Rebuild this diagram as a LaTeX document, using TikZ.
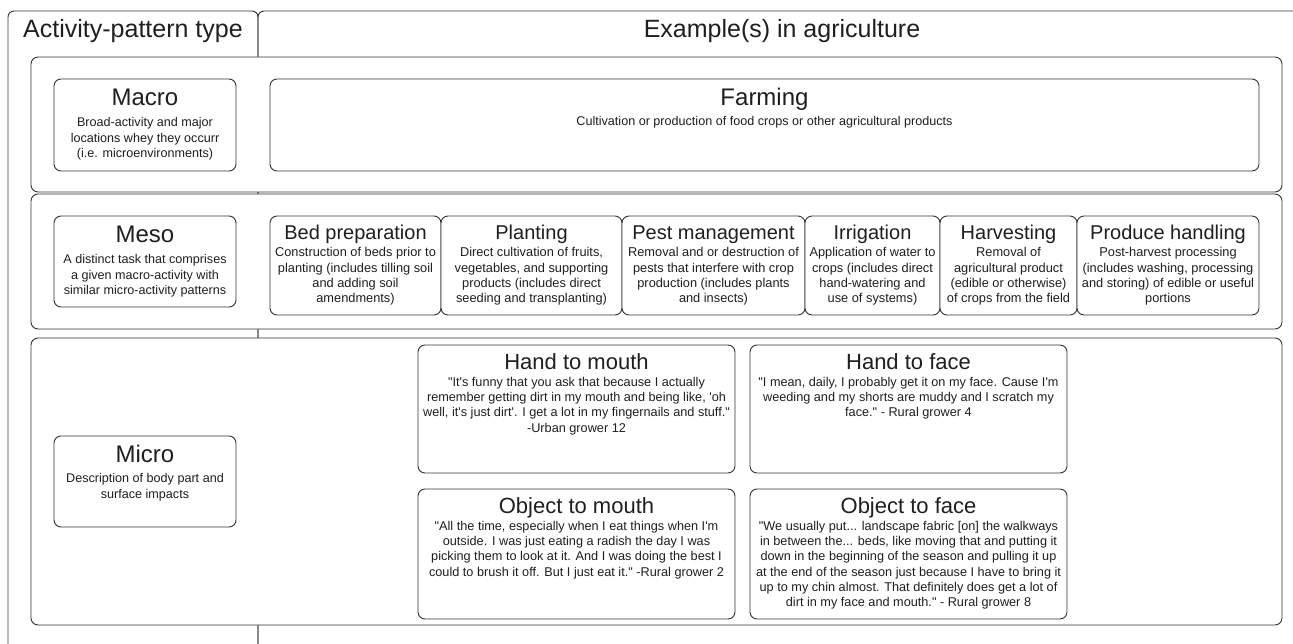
\documentclass[tikz,border=0pt]{standalone}
\usepackage{fontspec}
\setmainfont{Liberation Sans}[Ligatures=TeXOff]
\usepackage{tikz}
\usetikzlibrary{positioning}

\definecolor{linegray}{HTML}{333333}
\definecolor{inkgray}{HTML}{1F1F1F}

\begin{document}
\begin{tikzpicture}[x=1pt,y=-1pt,
    column/.style={draw=linegray, line width=0.9pt, rounded corners=6pt},
    band/.style={draw=linegray, fill=white, line width=0.9pt, rounded corners=7pt},
    card/.style={draw=linegray, fill=white, line width=0.9pt, rounded corners=7pt,
      anchor=north west, inner sep=0pt, outer sep=0pt},
    head/.style={text=inkgray, font=\fontsize{25}{30}\selectfont},
    bigtitle/.style={anchor=base, inner sep=0pt, text=inkgray, font=\fontsize{24}{28}\selectfont},
    tasktitle/.style={anchor=base, inner sep=0pt, text=inkgray, font=\fontsize{20}{24}\selectfont},
    quotetitle/.style={anchor=base, inner sep=0pt, text=inkgray, font=\fontsize{22}{26}\selectfont},
    desc/.style={anchor=north, inner sep=0pt, align=center, text=inkgray,
      font=\fontsize{12.6}{15.5}\selectfont},
    taskdesc/.style={desc, font=\fontsize{12.8}{15.3}\selectfont},
    quote/.style={anchor=north, inner sep=0pt, align=center, text=inkgray,
      font=\fontsize{12.7}{15.2}\selectfont}]
  \path[use as bounding box] (0,0) rectangle (1293,644);
  \clip (0,0) rectangle (1293,644);

  % Draw the two columns
  \draw[column] (8,700) rectangle (258,11);
  \draw[column] (258,700) rectangle (1310,11);
  \node[head] (typehead) at (133,31) {Activity-pattern type};
  \node[head] (examplehead) at (782,31) {Example(s) in agriculture};

  % Draw the three bands
  \draw[band] (31,57) rectangle (1282,192);
  \draw[band] (31,194) rectangle (1282,329);
  \draw[band] (31,338) rectangle (1282,625);

  % Macro band
  \node[card, minimum width=182pt, minimum height=92pt] (macro) at (54,79) {};
  \node[bigtitle] (macrotitle) at ([yshift=-26.5pt]macro.north) {Macro};
  \node[desc, below=12pt of macrotitle.base] (macrotext)
    {Broad-activity and major\\locations whey they occurr\\(i.e. microenvironments)};
  \node[card, minimum width=989pt, minimum height=92pt] (farming) at (270,79) {};
  \node[bigtitle] (farmingtitle) at ([yshift=-26.5pt]farming.north) {Farming};
  \node[desc, below=11pt of farmingtitle.base] (farmingtext)
    {Cultivation or production of food crops or other agricultural products};

  % Meso band
  \node[card, minimum width=182pt, minimum height=91pt] (meso) at (54,216) {};
  \node[bigtitle] (mesotitle) at ([yshift=-26.5pt]meso.north) {Meso};
  \node[desc, below=12pt of mesotitle.base] (mesotext)
    {A distinct task that comprises\\a given macro-activity with\\similar micro-activity patterns};
  \node[card, minimum width=171pt, minimum height=99pt] (bed) at (270,216) {};
  \node[card, minimum width=181pt, minimum height=99pt, right=0pt of bed] (planting) {};
  \node[card, minimum width=183pt, minimum height=99pt, right=0pt of planting] (pest) {};
  \node[card, minimum width=135pt, minimum height=99pt, right=0pt of pest] (irrigation) {};
  \node[card, minimum width=137pt, minimum height=99pt, right=0pt of irrigation] (harvest) {};
  \node[card, minimum width=182pt, minimum height=99pt, right=0pt of harvest] (produce) {};
  \node[tasktitle] (bedtitle) at ([yshift=-23.5pt]bed.north) {Bed preparation};
  \node[tasktitle] (plantingtitle) at ([yshift=-23.5pt]planting.north) {Planting};
  \node[tasktitle] (pesttitle) at ([yshift=-23.5pt]pest.north) {Pest management};
  \node[tasktitle] (irrigationtitle) at ([yshift=-23.5pt]irrigation.north) {Irrigation};
  \node[tasktitle] (harvesttitle) at ([yshift=-23.5pt]harvest.north) {Harvesting};
  \node[tasktitle] (producetitle) at ([yshift=-23.5pt]produce.north) {Produce handling};
  \node[taskdesc, below=8pt of bedtitle.base] (bedtext)
    {Construction of beds prior to\\planting (includes tilling soil\\and adding soil\\amendments)};
  \node[taskdesc, below=8pt of plantingtitle.base] (plantingtext)
    {Direct cultivation of fruits,\\vegetables, and supporting\\products (includes direct\\seeding and transplanting)};
  \node[taskdesc, below=8pt of pesttitle.base] (pesttext)
    {Removal and or destruction of\\pests that interfere with crop\\production (includes plants\\and insects)};
  \node[taskdesc, below=8pt of irrigationtitle.base] (irrigationtext)
    {Application of water to\\crops (includes direct\\hand-watering and\\use of systems)};
  \node[taskdesc, below=8pt of harvesttitle.base] (harvesttext)
    {Removal of\\agricultural product\\(edible or otherwise)\\of crops from the field};
  \node[taskdesc, below=8pt of producetitle.base] (producetext)
    {Post-harvest processing\\(includes washing, processing\\and storing) of edible or useful\\portions};

  % Micro band
  \node[card, minimum width=182pt, minimum height=91pt] (micro) at (54,436) {};
  \node[bigtitle] (microtitle) at ([yshift=-26.5pt]micro.north) {Micro};
  \node[desc, below=11pt of microtitle.base] (microtext)
    {Description of body part and\\surface impacts};
  \node[card, minimum width=317pt, minimum height=128pt] (handmouth) at (418,345) {};
  \node[card, minimum width=317pt, minimum height=128pt, right=15pt of handmouth] (handface) {};
  \node[card, minimum width=317pt, minimum height=130pt] (objmouth) at (418,489) {};
  \node[card, minimum width=317pt, minimum height=130pt, right=15pt of objmouth] (objface) {};
  \node[quotetitle] (handmouthtitle) at ([yshift=-24pt]handmouth.north) {Hand to mouth};
  \node[quotetitle] (handfacetitle) at ([yshift=-24pt]handface.north) {Hand to face};
  \node[quotetitle] (objmouthtitle) at ([yshift=-24pt]objmouth.north) {Object to mouth};
  \node[quotetitle] (objfacetitle) at ([yshift=-24pt]objface.north) {Object to face};
  \node[quote, below=8pt of handmouthtitle.base] (handmouthtext)
    {"It's funny that you ask that because I actually\\remember getting dirt in my mouth and being like, 'oh\\well, it's just dirt'. I get a lot in my fingernails and stuff."\\-Urban grower 12};
  \node[quote, below=8pt of handfacetitle.base] (handfacetext)
    {"I mean, daily, I probably get it on my face. Cause I'm\\weeding and my shorts are muddy and I scratch my\\face." - Rural grower 4};
  \node[quote, below=8pt of objmouthtitle.base] (objmouthtext)
    {"All the time, especially when I eat things when I'm\\outside. I was just eating a radish the day I was\\picking them to look at it. And I was doing the best I\\could to brush it off. But I just eat it." -Rural grower 2};
  \node[quote, below=8pt of objfacetitle.base] (objfacetext)
    {"We usually put... landscape fabric [on] the walkways\\in between the... beds, like moving that and putting it\\down in the beginning of the season and pulling it up\\at the end of the season just because I have to bring it\\up to my chin almost. That definitely does get a lot of\\dirt in my face and mouth." - Rural grower 8};
\end{tikzpicture}
\end{document}
